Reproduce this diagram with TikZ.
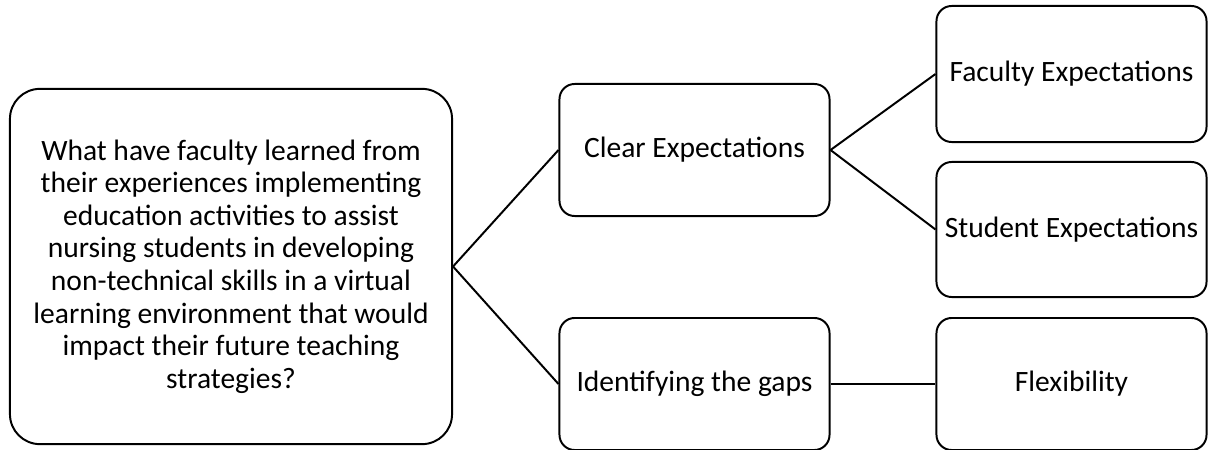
\documentclass[tikz,border=0pt]{standalone}
\usepackage{fontspec}
\setmainfont{Carlito}
\usepackage{tikz}
\usetikzlibrary{positioning}
\tikzstyle{bigbox} = [draw, line width=1.4pt, rounded corners=0.75cm, align=center, minimum width=11.05cm, minimum height=8.88cm, inner sep=0pt]
\tikzstyle{themebox} = [draw, line width=1.4pt, rounded corners=0.38cm, align=center, minimum width=6.75cm, minimum height=3.3cm, inner sep=0pt]
\tikzstyle{link} = [line width=1.4pt]

\begin{document}
\begin{tikzpicture}[x=0.025cm, y=0.025cm, font=\fontsize{21}{23.2}\selectfont]
\useasboundingbox (0,0) rectangle (1209,449);

% research question
\node[bigbox] (question) at (231,182.5) {What have faculty learned from\\their experiences implementing\\education activities to assist\\nursing students in developing\\non-technical skills in a virtual\\learning environment that would\\impact their future teaching\\strategies?};

% themes
\node[themebox] (clear) at (694.5,299) {Clear Expectations};
\node[themebox] (gaps) at (694.5,65) {Identifying the gaps};

% subthemes
\node[themebox, minimum height=3.4cm] (faculty) at (1071.5,375) {Faculty Expectations};
\node[themebox, minimum height=3.375cm] (student) at (1071.5,219.5) {Student Expectations};
\node[themebox] (flex) at (1071.5,65) {Flexibility};

% connectors
\draw[link] (question.east) -- (clear.west);
\draw[link] (question.east) -- (gaps.west);
\draw[link] (clear.east) -- (faculty.west);
\draw[link] (clear.east) -- (student.west);
\draw[link] (gaps.east) -- (flex.west);
\end{tikzpicture}
\end{document}
